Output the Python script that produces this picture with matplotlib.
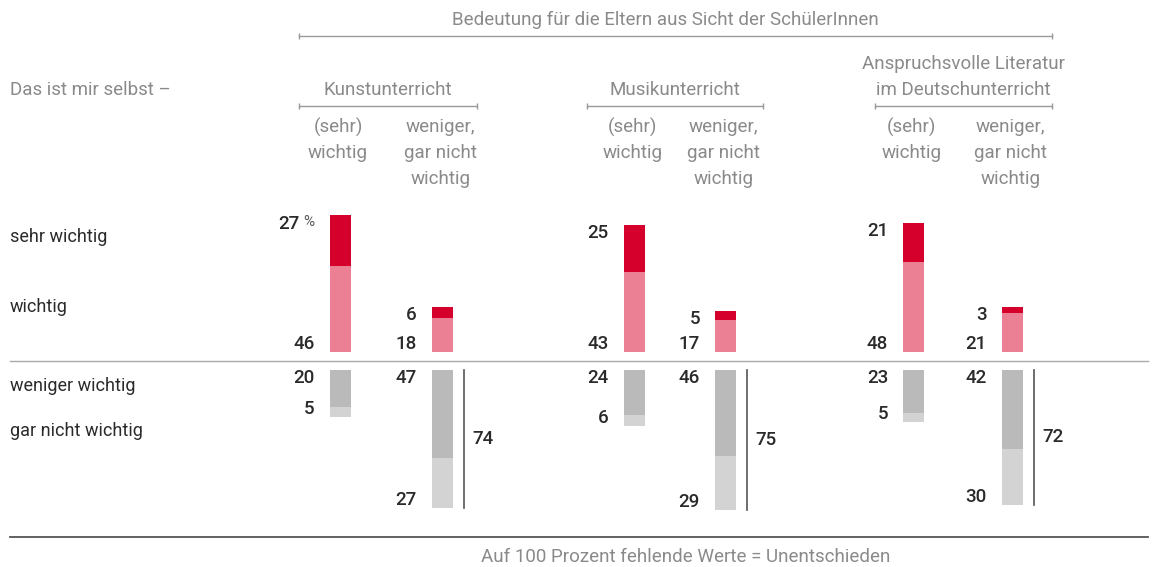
import matplotlib
matplotlib.use("Agg")
import matplotlib.pyplot as plt

plt.rcParams['font.family'] = ['Roboto', 'DejaVu Sans']

# data
groups = ['Kunstunterricht', 'Musikunterricht', 'Anspruchsvolle Literatur\nim Deutschunterricht']
sub_labels = ['(sehr)\nwichtig', 'weniger,\ngar nicht\nwichtig']
row_labels = ['sehr wichtig', 'wichtig', 'weniger wichtig', 'gar nicht wichtig']
sehr_wichtig = [27, 6, 25, 5, 21, 3]
wichtig = [46, 18, 43, 17, 48, 21]
weniger_wichtig = [20, 47, 24, 46, 23, 42]
gar_nicht_wichtig = [5, 27, 6, 29, 5, 30]
totals_negativ = [74, 75, 72]

title = 'Bedeutung für die Eltern aus Sicht der SchülerInnen'
left_head = 'Das ist mir selbst –'
footer = 'Auf 100 Prozent fehlende Werte = Unentschieden'

# layout (pixels)
W, H = 1152, 567
scale = 1.87          # px per percent
base_px = 352         # baseline of upper bars
gap = 18 / scale      # lower bars start below the divider
bar_x = [340, 442.5, 634.5, 725.5, 913.5, 1012.5]
bar_w = 21
group_x = [388, 675, 963]
group_line = [(299, 477), (587, 763), (875, 1052)]

c_dark_red = '#d5002b'
c_pink = '#eb7f93'
c_gray = '#bababa'
c_lgray = '#d3d3d3'
c_head = '#8a8a8a'
c_text = '#2a2a2a'

fig = plt.figure(figsize=(W / 100, H / 100), dpi=100)
ax = fig.add_axes([0, 0, 1, 1])
ax.set_xlim(0, W)
ax.set_ylim(-(H - base_px) / scale, base_px / scale)
ax.axis('off')


def fy(y):
    return 1 - y / H


def fx(x):
    return x / W


# bars
ax.bar(bar_x, wichtig, width=bar_w, color=c_pink)
ax.bar(bar_x, sehr_wichtig, bottom=wichtig, width=bar_w, color=c_dark_red)
neg1 = [-gap - v for v in weniger_wichtig]
ax.bar(bar_x, [-v for v in weniger_wichtig], bottom=-gap, width=bar_w, color=c_gray)
ax.bar(bar_x, [-v for v in gar_nicht_wichtig], bottom=neg1, width=bar_w, color=c_lgray)

num_kw = dict(fontsize=13.5, fontweight='medium', color=c_text, ha='right')
for i, x in enumerate(bar_x):
    lx = x - bar_w / 2 - 15
    top = wichtig[i] + sehr_wichtig[i]
    if i == 0:
        ax.text(lx - 15, top + 0.5, str(sehr_wichtig[i]), va='top', **num_kw)
        ax.text(lx - 11, top, '%', va='top', fontsize=11, color='#555', ha='left')
    else:
        ax.text(lx, top + 0.5, str(sehr_wichtig[i]), va='top', **num_kw)
    ax.text(lx, -0.3, str(wichtig[i]), va='bottom', **num_kw)
    ax.text(lx, -gap + 0.5, str(weniger_wichtig[i]), va='top', **num_kw)
    bottom = -gap - weniger_wichtig[i] - gar_nicht_wichtig[i]
    ax.text(lx, bottom - 0.5, str(gar_nicht_wichtig[i]), va='bottom', **num_kw)

# brackets with totals for the "weniger, gar nicht" bars
for g, t in enumerate(totals_negativ):
    i = 2 * g + 1
    bx = bar_x[i] + bar_w / 2 + 11
    bottom = -gap - weniger_wichtig[i] - gar_nicht_wichtig[i]
    ax.plot([bx, bx], [-gap, bottom], color='#555', lw=1.2)
    ax.text(bx + 8, (-gap + bottom) / 2, str(t), ha='left', va='center',
            fontsize=13.5, fontweight='medium', color=c_text)

# dividers
ax.plot([10, 1148], [-4.8, -4.8], color='#aaaaaa', lw=1)
fig.add_artist(plt.Line2D([fx(10), fx(1148)], [fy(537), fy(537)], color='#555', lw=1.3))

# headers
head_kw = dict(fontsize=13.5, color=c_head, fontweight='normal', ha='center', va='center')
fig.text(fx(665), fy(20), title, **head_kw)
fig.add_artist(plt.Line2D([fx(299), fx(1052)], [fy(36), fy(36)], color='#999', lw=1,
                          marker='|', markersize=4, markevery=[0, 1]))
fig.text(fx(10), fy(90), left_head, **{**head_kw, 'ha': 'left'})
for g, name in enumerate(groups):
    lines = name.split('\n')
    for k, ln in enumerate(lines):
        fig.text(fx(group_x[g]), fy(90 - 26 * (len(lines) - 1 - k)), ln, **head_kw)
    x0, x1 = group_line[g]
    fig.add_artist(plt.Line2D([fx(x0), fx(x1)], [fy(106), fy(106)], color='#999', lw=1,
                              marker='|', markersize=4, markevery=[0, 1]))
    for s, lab in enumerate(sub_labels):
        for k, ln in enumerate(lab.split('\n')):
            fig.text(fx(bar_x[2 * g + s] - 2), fy(127 + 26 * k), ln, **head_kw)

row_y = [237, 307, 386, 431]
for lab, y in zip(row_labels, row_y):
    fig.text(fx(10), fy(y), lab, fontsize=13, color=c_text, ha='left', va='center')

fig.text(fx(686), fy(557), footer, **head_kw)

fig.savefig('out.png', dpi=100)
